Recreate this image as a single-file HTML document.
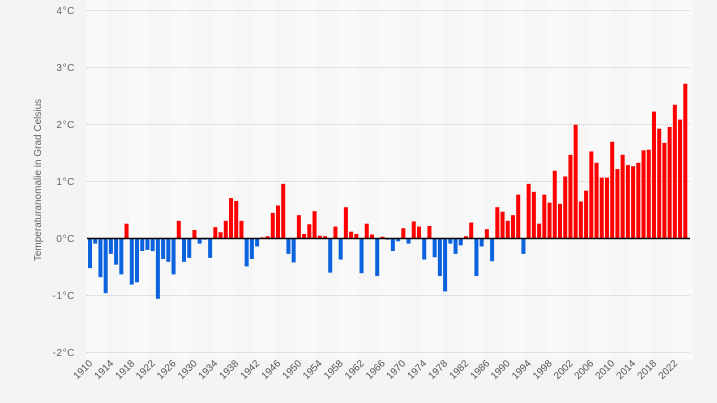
<!DOCTYPE html>
<html><head><meta charset="utf-8"><style>
html,body{margin:0;padding:0;background:#f4f4f4;}
svg{display:block;font-family:"Liberation Sans",Arial,sans-serif;}
</style></head><body>
<svg id="c" width="717" height="403" viewBox="0 0 717 403" xmlns="http://www.w3.org/2000/svg">
<rect x="0" y="0" width="717" height="403" fill="#f4f4f4"/>
<g id="stripes"></g>
<g stroke="#c8c8c8" stroke-width="1" stroke-dasharray="1,1">
<line x1="87" x2="690" y1="10.5" y2="10.5"/>
<line x1="87" x2="690" y1="67.5" y2="67.5"/>
<line x1="87" x2="690" y1="124.5" y2="124.5"/>
<line x1="87" x2="690" y1="181.5" y2="181.5"/>
<line x1="87" x2="690" y1="295.5" y2="295.5"/>
<line x1="87" x2="690" y1="352.5" y2="352.5"/>
</g>
<g font-size="10" fill="#666" text-anchor="end" letter-spacing="0.6">
<text x="75" y="14">4°C</text>
<text x="75" y="71">3°C</text>
<text x="75" y="128">2°C</text>
<text x="75" y="185">1°C</text>
<text x="75" y="242">0°C</text>
<text x="75" y="299">-1°C</text>
<text x="75" y="356">-2°C</text>
</g>
<text transform="translate(41,180) rotate(-90)" font-size="10" fill="#666" text-anchor="middle">Temperaturanomalie in Grad Celsius</text>
<g id="bars"></g>
<line x1="87" x2="690" y1="238.5" y2="238.5" stroke="#000" stroke-width="1.5"/>
<g font-size="10" fill="#555" text-anchor="end">
<text transform="translate(93,364) rotate(-45)">1910</text>
<text transform="translate(114,364) rotate(-45)">1914</text>
<text transform="translate(135,364) rotate(-45)">1918</text>
<text transform="translate(155.5,364) rotate(-45)">1922</text>
<text transform="translate(176.5,364) rotate(-45)">1926</text>
<text transform="translate(197.5,364) rotate(-45)">1930</text>
<text transform="translate(218,364) rotate(-45)">1934</text>
<text transform="translate(239,364) rotate(-45)">1938</text>
<text transform="translate(260,364) rotate(-45)">1942</text>
<text transform="translate(281,364) rotate(-45)">1946</text>
<text transform="translate(302,364) rotate(-45)">1950</text>
<text transform="translate(322.5,364) rotate(-45)">1954</text>
<text transform="translate(343.5,364) rotate(-45)">1958</text>
<text transform="translate(364.5,364) rotate(-45)">1962</text>
<text transform="translate(385.5,364) rotate(-45)">1966</text>
<text transform="translate(406,364) rotate(-45)">1970</text>
<text transform="translate(427,364) rotate(-45)">1974</text>
<text transform="translate(448,364) rotate(-45)">1978</text>
<text transform="translate(469,364) rotate(-45)">1982</text>
<text transform="translate(490,364) rotate(-45)">1986</text>
<text transform="translate(510.5,364) rotate(-45)">1990</text>
<text transform="translate(531.5,364) rotate(-45)">1994</text>
<text transform="translate(552.5,364) rotate(-45)">1998</text>
<text transform="translate(573.5,364) rotate(-45)">2002</text>
<text transform="translate(594,364) rotate(-45)">2006</text>
<text transform="translate(615,364) rotate(-45)">2010</text>
<text transform="translate(636,364) rotate(-45)">2014</text>
<text transform="translate(657,364) rotate(-45)">2018</text>
<text transform="translate(678,364) rotate(-45)">2022</text>
</g>
</svg>
<script>
var v=[-0.52,-0.09,-0.68,-0.96,-0.27,-0.46,-0.63,0.26,-0.81,-0.77,-0.22,-0.2,-0.22,-1.06,-0.36,-0.41,-0.63,0.31,-0.41,-0.34,0.15,-0.09,-0.02,-0.34,0.2,0.11,0.31,0.71,0.66,0.31,-0.49,-0.36,-0.14,0.02,0.04,0.45,0.58,0.96,
-0.27,-0.42,0.41,0.08,0.25,0.48,0.05,0.04,-0.6,0.21,-0.37,0.55,0.12,0.08,-0.61,0.26,0.07,-0.66,0.03,-0.02,-0.22,-0.05,0.18,-0.09,0.3,0.21,-0.37,0.22,-0.33,-0.66,-0.93,-0.09,-0.27,-0.12,0.04,0.28,-0.66,-0.14,
0.165,-0.4,0.55,0.47,0.31,0.41,0.77,-0.27,0.96,0.82,0.26,0.77,0.63,1.19,0.61,1.09,1.47,2.0,0.65,0.84,1.53,1.33,1.07,1.07,1.7,1.22,1.47,1.29,1.27,1.33,1.55,1.56,2.23,1.93,1.68,1.96,2.35,2.09,2.72];
var ns="http://www.w3.org/2000/svg",g=document.getElementById("bars"),s=document.getElementById("stripes");
var z=238.5,k=56.9,x0=90,dx=5.222;
for(var j=0;j<29;j++){var r=document.createElementNS(ns,"rect");var a=87+j*4*dx;r.setAttribute("x",a);r.setAttribute("y",0);r.setAttribute("width",4*dx);r.setAttribute("height",360);r.setAttribute("fill",j%2==0?"#f9f9f9":"#f6f6f6");
 if(a<690)s.appendChild(r);}
for(var i=0;i<v.length;i++){var c=x0+i*dx,h=Math.abs(v[i])*k,r=document.createElementNS(ns,"rect");
r.setAttribute("x",c-2);r.setAttribute("width",4);r.setAttribute("y",v[i]>=0?z-h:z);r.setAttribute("height",h);
r.setAttribute("fill",v[i]>=0?"#ff0000":"#0b62df");g.appendChild(r);}
</script>
</body></html>
